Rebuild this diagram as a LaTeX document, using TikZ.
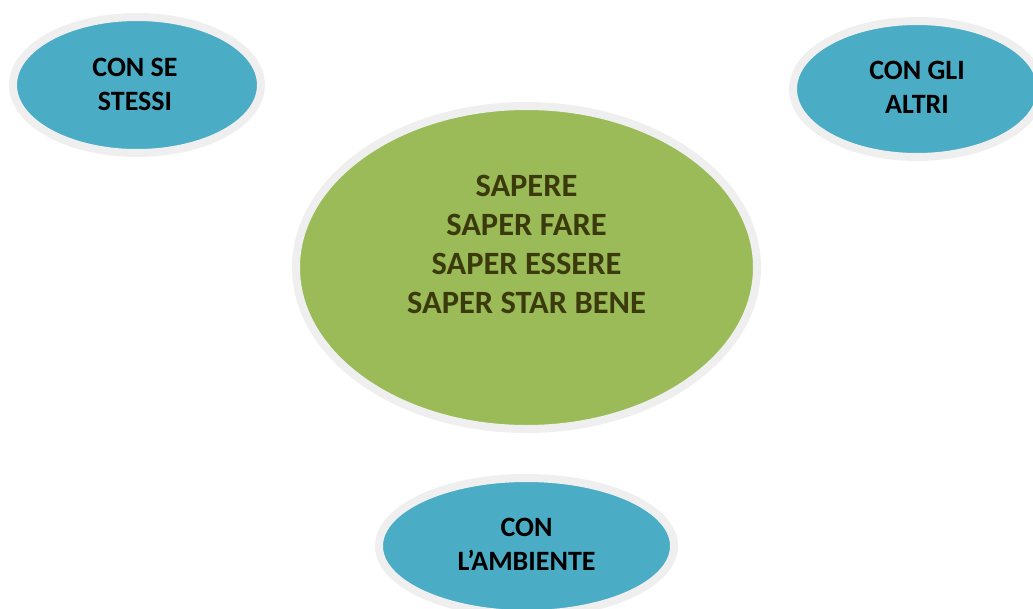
\documentclass[tikz,border=0pt]{standalone}
\usepackage{fontspec}
\setmainfont{Carlito}
\usepackage{xcolor}
\usetikzlibrary{positioning,shapes.geometric}
\definecolor{ringgray}{HTML}{EFEFEF}
\definecolor{bubbleblue}{HTML}{4BACC6}
\definecolor{coregreen}{HTML}{9BBB59}
\definecolor{coretext}{HTML}{3A3A0C}

\begin{document}
\begin{tikzpicture}[
  x=1pt, y=1pt,
  ring/.style={ellipse, draw=ringgray, line width=8pt, inner sep=0pt},
  side/.style={ring, fill=bubbleblue, minimum width=248pt, minimum height=136pt},
  sidetext/.style={align=center, font=\fontsize{28}{34}\selectfont\bfseries, text=black},
  core/.style={ring, fill=coregreen, minimum width=461pt, minimum height=323pt},
  coretxt/.style={align=center, font=\fontsize{32.5}{39}\selectfont\bfseries, text=coretext}
]
  \useasboundingbox (0,0) rectangle (1033,-608);
  \node[core] (sapere) at (526.5,-267.5) {};
  \node[coretxt] (saperetext) at (526.5,-244) {SAPERE\\SAPER FARE\\SAPER ESSERE\\SAPER STAR BENE};
  \node[side] (sestessi) at (137,-85) {};
  \node[sidetext] (sestessitext) at (135,-84) {CON SE\\STESSI};
  \node[side] (altri) at (917,-89) {};
  \node[sidetext] (altritext) at (917,-87) {CON GLI\\ALTRI};
  \node[side, minimum width=295pt] (ambiente) at (526.5,-546) {};
  \node[sidetext] (ambientetext) at (526.5,-544) {CON\\L’AMBIENTE};
\end{tikzpicture}
\end{document}
